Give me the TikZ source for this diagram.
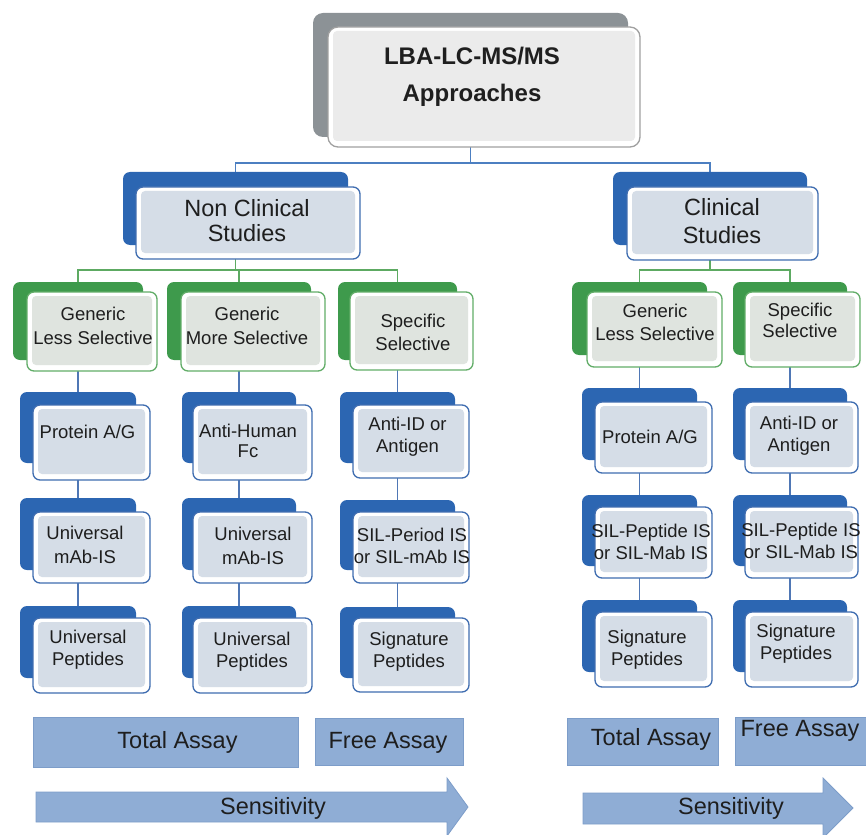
\documentclass[tikz,border=0pt]{standalone}
\usepackage{fontspec}
\setmainfont{Liberation Sans}
\usetikzlibrary{fit,backgrounds}

\definecolor{bluedark}{HTML}{2C66B2}
\definecolor{blueedge}{HTML}{3F6DB0}
\definecolor{innerblue}{HTML}{D5DDE7}
\definecolor{greendark}{HTML}{3E9A4C}
\definecolor{greenedge}{HTML}{62AD68}
\definecolor{innergreen}{HTML}{DFE4DF}
\definecolor{graydark}{HTML}{8C9296}
\definecolor{grayedge}{HTML}{A0A0A0}
\definecolor{innergray}{HTML}{EBEBEB}
\definecolor{barfill}{HTML}{8FADD5}
\definecolor{baredge}{HTML}{7D9DC9}
\definecolor{textcol}{HTML}{1E1E1E}
\definecolor{topline}{HTML}{4C7FC1}
\definecolor{grline}{HTML}{5DAA62}
\definecolor{colline}{HTML}{4F77B5}

\begin{document}
\begin{tikzpicture}[x=1pt,y=-1pt,
  backbox/.style={rounded corners=7pt, inner sep=0pt, draw=none},
  backblue/.style={backbox, fill=bluedark},
  backgreen/.style={backbox, fill=greendark},
  backgray/.style={backbox, fill=graydark, rounded corners=10pt},
  frontbox/.style={rounded corners=7pt, inner sep=0pt, fill=white, line width=1.3pt,
    path picture={\fill[rounded corners=4pt, #1]
      ([shift={(5pt,6pt)}]path picture bounding box.south west) rectangle
      ([shift={(-5pt,-4pt)}]path picture bounding box.north east);}},
  frontblue/.style={frontbox=innerblue, draw=blueedge},
  frontgreen/.style={frontbox=innergreen, draw=greenedge},
  fronttop/.style={frontbox=innergray, draw=grayedge, rounded corners=10pt},
  bar/.style={inner sep=0pt, fill=barfill, draw=baredge, line width=0.8pt},
  txt/.style={align=center, text=textcol, inner sep=0pt,
    font=\fontsize{18.5}{22}\selectfont},
  bigtxt/.style={align=center, text=textcol, inner sep=0pt,
    font=\fontsize{23.5}{26}\selectfont},
  bline/.style={draw=topline, line width=1.8pt},
  gline/.style={draw=grline, line width=1.8pt},
  cline/.style={draw=colline, line width=1.8pt}
]
\useasboundingbox (0,0) rectangle (866,834);

% ---- top box
\node[backgray, fit={(313,13)(628,137)}] (topb) {};
\node[fronttop, fit={(328,27)(640,147)}] (top) {};
\node[align=center, text=black!88, inner sep=0pt,
  font=\bfseries\fontsize{24}{37}\selectfont] (toptxt) at (472,77) {LBA-LC-MS/MS\\Approaches};

% ---- study level
\node[backblue, fit={(123,172)(348,245)}] (ncb) {};
\node[frontblue, fit={(136,187)(360,259)}] (nc) {};
\node[bigtxt, font=\fontsize{23.5}{25}\selectfont] (nctxt) at (247,221) {Non Clinical\\Studies};

\node[backblue, fit={(613,172)(807,245)}] (cb) {};
\node[frontblue, fit={(627,187)(818,260)}] (c) {};
\node[bigtxt, font=\fontsize{23.5}{28}\selectfont] (ctxt) at (722,221.5) {Clinical\\Studies};

% ---- selectivity level, non clinical
\node[backgreen, fit={(13,282)(143,360)}] (g1b) {};
\node[frontgreen, fit={(27,292)(157,371)}] (g1) {};
\node[txt, font=\fontsize{18.5}{24}\selectfont] (g1t) at (93,326) {Generic\\Less Selective};

\node[backgreen, fit={(167,282)(311,360)}] (g2b) {};
\node[frontgreen, fit={(181,292)(325,371)}] (g2) {};
\node[txt, font=\fontsize{18.5}{24}\selectfont] (g2t) at (247,326) {Generic\\More Selective};

\node[backgreen, fit={(338,282)(457,360)}] (g3b) {};
\node[frontgreen, fit={(350,292)(473,370)}] (g3) {};
\node[txt, font=\fontsize{18.5}{23}\selectfont] (g3t) at (413,332) {Specific\\Selective};

% ---- selectivity level, clinical
\node[backgreen, fit={(572,282)(707,355)}] (cg1b) {};
\node[frontgreen, fit={(587,292)(722,367)}] (cg1) {};
\node[txt, font=\fontsize{18.5}{23}\selectfont] (cg1t) at (655,322) {Generic\\Less Selective};

\node[backgreen, fit={(733,282)(847,355)}] (cg2b) {};
\node[frontgreen, fit={(745,292)(860,367)}] (cg2) {};
\node[txt, font=\fontsize{18.5}{21}\selectfont] (cg2t) at (800,320) {Specific\\Selective};

% ---- capture / IS / peptide columns, non clinical
\node[backblue, fit={(20,392)(136,463)}] (a1b) {};
\node[frontblue, fit={(33,405)(150,480)}] (a1) {};
\node[txt] (a1t) at (87.5,432) {Protein A/G};
\node[backblue, fit={(20,498)(136,570)}] (a2b) {};
\node[frontblue, fit={(33,512)(150,583)}] (a2) {};
\node[txt, font=\fontsize{18.5}{24}\selectfont] (a2t) at (85,545) {Universal\\mAb-IS};
\node[backblue, fit={(20,606)(136,678)}] (a3b) {};
\node[frontblue, fit={(33,618)(150,693)}] (a3) {};
\node[txt] (a3t) at (88,650) {Universal\\Peptides};

\node[backblue, fit={(182,392)(296,463)}] (b1b) {};
\node[frontblue, fit={(193,405)(312,480)}] (b1) {};
\node[txt, font=\fontsize{18.5}{20}\selectfont] (b1t) at (248,441) {Anti-Human\\Fc};
\node[backblue, fit={(182,498)(296,570)}] (b2b) {};
\node[frontblue, fit={(193,512)(312,583)}] (b2) {};
\node[txt, font=\fontsize{18.5}{24}\selectfont] (b2t) at (253,546) {Universal\\mAb-IS};
\node[backblue, fit={(182,606)(296,678)}] (b3b) {};
\node[frontblue, fit={(193,618)(312,693)}] (b3) {};
\node[txt] (b3t) at (252,652) {Universal\\Peptides};

\node[backblue, fit={(340,392)(455,463)}] (d1b) {};
\node[frontblue, fit={(353,405)(469,478)}] (d1) {};
\node[txt] (d1t) at (407.5,437) {Anti-ID or\\Antigen};
\node[backblue, fit={(340,500)(455,570)}] (d2b) {};
\node[frontblue, fit={(353,512)(469,583)}] (d2) {};
\node[txt] (d2t) at (412,546) {SIL-Period IS\\or SIL-mAb IS};
\node[backblue, fit={(340,607)(455,678)}] (d3b) {};
\node[frontblue, fit={(353,618)(469,692)}] (d3) {};
\node[txt] (d3t) at (409,652) {Signature\\Peptides};

% ---- capture / IS / peptide columns, clinical
\node[backblue, fit={(582,388)(697,460)}] (e1b) {};
\node[frontblue, fit={(595,402)(712,473)}] (e1) {};
\node[txt] (e1t) at (650,437) {Protein A/G};
\node[backblue, fit={(582,495)(697,566)}] (e2b) {};
\node[frontblue, fit={(595,507)(712,578)}] (e2) {};
\node[txt] (e2t) at (651,542) {SIL-Peptide IS\\or SIL-Mab IS};
\node[backblue, fit={(582,600)(697,672)}] (e3b) {};
\node[frontblue, fit={(595,612)(712,687)}] (e3) {};
\node[txt] (e3t) at (647,650) {Signature\\Peptides};

\node[backblue, fit={(733,388)(847,460)}] (f1b) {};
\node[frontblue, fit={(745,402)(858,473)}] (f1) {};
\node[txt] (f1t) at (799,436) {Anti-ID or\\Antigen};
\node[backblue, fit={(733,495)(847,566)}] (f2b) {};
\node[frontblue, fit={(745,507)(858,578)}] (f2) {};
\node[txt] (f2t) at (801,541) {SIL-Peptide IS\\or SIL-Mab IS};
\node[backblue, fit={(733,600)(847,672)}] (f3b) {};
\node[frontblue, fit={(745,612)(858,687)}] (f3) {};
\node[txt] (f3t) at (796,644) {Signature\\Peptides};

% ---- connectors, drawn behind the boxes
\coordinate (j0) at (0,163);
\coordinate (j1) at (0,270);
\begin{scope}[on background layer]
  \draw[bline] (topb.south) -- (topb.south |- j0) -| (ncb.north);
  \draw[bline] (topb.south |- j0) -| (cb.north);
  \draw[gline] (ncb.south) -- (ncb.south |- j1) -| (g1b.north);
  \draw[gline] (ncb.south |- j1) -| (g2b.north);
  \draw[gline] (ncb.south |- j1) -| (g3b.north);
  \draw[gline] (cb.south) -- (cb.south |- j1) -| (cg1b.north);
  \draw[gline] (cb.south |- j1) -| (cg2b.north);
  \foreach \g/\p/\q/\r in {g1b/a1b/a2b/a3b, g2b/b1b/b2b/b3b, g3b/d1b/d2b/d3b,
                           cg1b/e1b/e2b/e3b, cg2b/f1b/f2b/f3b} {
    \draw[cline] (\g.south) -- (\g.south -| \p.north) -- (\p.north);
    \draw[cline] (\p.south) -- (\q.north);
    \draw[cline] (\q.south) -- (\r.north);
  }
\end{scope}

% ---- assay bars and sensitivity arrows
\node[bar, fit={(33,717)(298,767)}] (ntot) {};
\node[bigtxt] (ntott) at (177.5,742) {Total Assay};
\node[bar, fit={(315,718)(463,765)}] (nfree) {};
\node[bigtxt] (nfreet) at (388,743) {Free Assay};
\path[bar] (36,792) -- (447,792) -- (447,778) -- (468,807) -- (447,836)
  -- (447,822) -- (36,822) -- cycle;
\node[bigtxt] (nsens) at (273,808) {Sensitivity};

\node[bar, fit={(567,718)(718,765)}] (ctot) {};
\node[bigtxt] (ctott) at (651,739) {Total Assay};
\node[bar, fit={(735,717)(870,765)}] (cfree) {};
\node[bigtxt] (cfreet) at (800,731) {Free Assay};
\path[bar] (583,793) -- (823,793) -- (823,778) -- (853,808) -- (823,838)
  -- (823,824) -- (583,824) -- cycle;
\node[bigtxt] (csens) at (731,808) {Sensitivity};
\end{tikzpicture}
\end{document}
